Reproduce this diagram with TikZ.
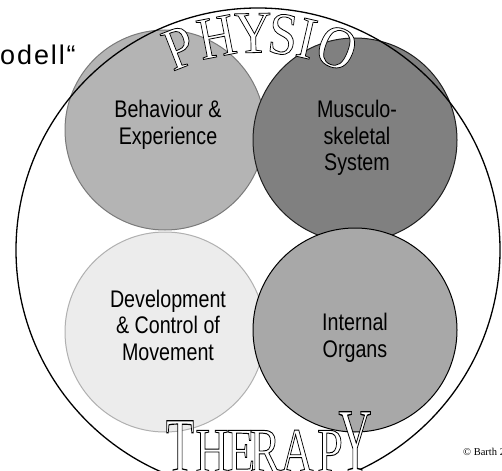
\documentclass[tikz,border=0pt]{standalone}
\usepackage{fontspec}
\setmainfont{Liberation Serif}
\newfontfamily\narrowsans[FakeStretch=0.82]{Liberation Sans}
\newfontfamily\spacedsans[LetterSpace=7]{Liberation Sans}
\usetikzlibrary{calc}
\definecolor{tlfill}{HTML}{B4B4B4}
\definecolor{tldraw}{HTML}{7A7A7A}
\definecolor{trfill}{HTML}{808080}
\definecolor{trdraw}{HTML}{1E1E1E}
\definecolor{blfill}{HTML}{ECECEC}
\definecolor{bldraw}{HTML}{B0B0B0}
\definecolor{brfill}{HTML}{A8A8A8}
\definecolor{brdraw}{HTML}{000000}
\newcommand\olet[1]{{\color{white}\special{pdf:literal direct 2 Tr 0.7 w 0 G}#1\special{pdf:literal direct 0 Tr}}}
\begin{document}
\begin{tikzpicture}[x=1pt,y=-1pt,
  blob/.style={circle, minimum size=200pt, inner sep=0pt, line width=1pt},
  label/.style={align=center, inner sep=0pt, font=\narrowsans\fontsize{24}{26.5}\selectfont},
  frame/.style={circle, draw=black, line width=1.3pt, minimum size=484pt, inner sep=0pt},
  arcletter/.style={inner sep=0pt, font=\fontsize{52}{52}\selectfont},
  baseletter/.style={inner sep=0pt, anchor=base, font=\fontsize{46}{46}\selectfont}]
\useasboundingbox (0,0) rectangle (502,470);
\clip (0,0) rectangle (502,470);
\fill[white] (0,0) rectangle (502,470);
% four circles
\node[blob, fill=tlfill, draw=tldraw] (tl) at (165,130) {};
\node[blob, fill=blfill, draw=bldraw] (bl) at (165,332) {};
\node[blob, fill=trfill, draw=trdraw, minimum size=204pt] (tr) at (355,140) {};
\node[blob, fill=brfill, draw=brdraw, minimum size=204pt] (br) at (355,330) {};
\node[label] (tlt) at (168,125) {Behaviour \&\\Experience};
\node[label] (blt) at (168,325) {Development\\\& Control of\\Movement};
\node[label] (trt) at (357,138) {Musculo-\\skeletal\\System};
\node[label] (brt) at (355,338) {Internal\\Organs};
% outer circle
\node[frame] (outer) at (258,250) {};
% title fragment
\node[anchor=base west, inner sep=0pt, font=\spacedsans\fontsize{27}{27}\selectfont] (title) at (0,65) {odell“};
% PHYSIO arched
\foreach \l/\a in {P/-21.3,H/-11,Y/-1.3,S/6.6,I/13,O/21.3}
  \node[arcletter, rotate=-\a] (phy\l) at ($(258,250)+(\a-90:217)$) {\scalebox{1}[1.15]{\olet{\l}}};
% THERAPY
\node[baseletter] (thT) at (180,472) {\scalebox{1}[1.7]{\olet{T}}};
\node[baseletter] (thH) at (212,472) {\scalebox{1}[1.38]{\olet{H}}};
\node[baseletter] (thE) at (241,472) {\scalebox{1}[1.38]{\olet{E}}};
\node[baseletter] (thR) at (265,472) {\scalebox{1}[1.38]{\olet{R}}};
\node[baseletter] (thA) at (297,472) {\scalebox{1}[1.38]{\olet{A}}};
\node[baseletter] (thP) at (330,472) {\scalebox{1}[1.38]{\olet{P}}};
\node[baseletter] (thY) at (355,472) {\scalebox{1}[2.0]{\olet{Y}}};
% copyright
\node[anchor=base west, inner sep=0pt, font=\fontsize{10.5}{12}\selectfont] (copy) at (463,455) {© Barth 20};
\end{tikzpicture}
\end{document}
